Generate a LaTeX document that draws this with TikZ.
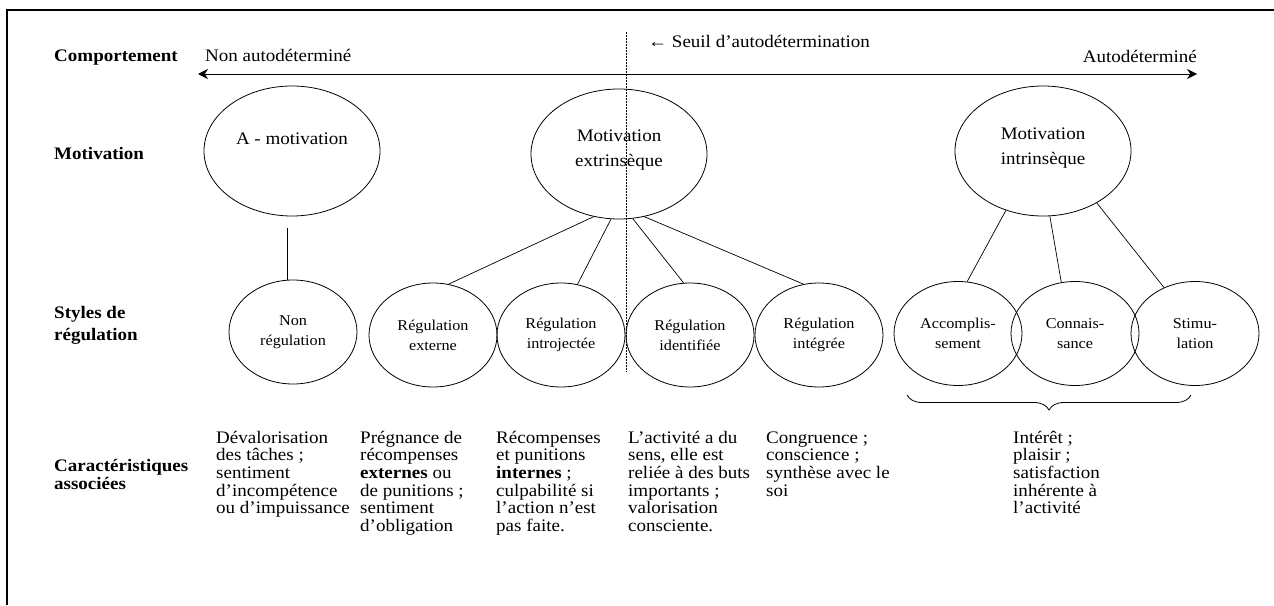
\documentclass[tikz,border=0pt]{standalone}
\usepackage{fontspec}
\setmainfont{Liberation Serif}[FakeStretch=1.08]
\usetikzlibrary{shapes.geometric,arrows.meta,decorations.pathreplacing,calc}
\newcommand\firststrut{\rule{0pt}{13pt}}
\begin{document}
\begin{tikzpicture}[x=1pt,y=-1pt,
  motell/.style={draw, ellipse, minimum width=176pt, minimum height=130pt, line width=0.8pt, inner sep=0pt},
  regc/.style={draw, ellipse, minimum width=128pt, minimum height=104pt, line width=0.8pt, align=center, inner sep=0pt, font=\fontsize{15}{20}\selectfont},
  lab/.style={font=\fontsize{17.6}{22}\selectfont\bfseries, align=left, inner sep=0pt},
  plain/.style={font=\fontsize{17.6}{22}\selectfont, inner sep=0pt},
  etxt/.style={font=\fontsize{17.6}{25}\selectfont, align=center, inner sep=0pt},
  txt/.style={font=\fontsize{17.6}{17.6}\selectfont, align=left, anchor=north west, inner sep=0pt},
  conn/.style={line width=0.7pt},
  tip/.style={{Stealth[length=10pt,width=10pt]}-{Stealth[length=10pt,width=10pt]}}]
\useasboundingbox (0,0) rectangle (1274,605);
% frame
\coordinate (f1) at (1274,10);
\coordinate (f2) at (7,10);
\coordinate (f3) at (7,605);
\draw[line width=2pt] (f1) -- (f2) -- (f3);
% axis
\node[lab, anchor=base west] (comp) at (54,61) {Comportement};
\node[plain, anchor=base west] (nonauto) at (205,61) {Non autodéterminé};
\node[plain, anchor=base west] (seuil) at (648,47) {← Seuil d’autodétermination};
\node[plain, anchor=base east] (auto) at (1197,62) {Autodéterminé};
\coordinate (al) at (198,74);
\coordinate (ar) at (1197,74);
\draw[tip, line width=0.8pt] (al) -- (ar);
\coordinate (d1) at (626,32);
\coordinate (d2) at (626,372);
\draw[line width=0.5pt, dash pattern=on 1.5pt off 1.5pt] (d1) -- (d2);
% motivation row
\node[lab, anchor=base west] (lmot) at (54,159) {Motivation};
\node[motell] (amot) at (292,151) {};
\node[etxt, anchor=base] (amott) at (292,144) {A - motivation};
\node[motell] (mext) at (619,154) {};
\node[etxt, anchor=north] (mextt) at (619,128) {\firststrut Motivation\\extrinsèque};
\node[motell] (mint) at (1043,151) {};
\node[etxt, anchor=north] (mintt) at (1043,126) {\firststrut Motivation\\intrinsèque};
% regulation row
\node[lab, anchor=north west] (lsty) at (54,305) {\firststrut Styles de\\régulation};
\node[regc] (nreg) at (293,332) {Non\\régulation};
\node[regc] (rext) at (433,335) {Régulation\\externe};
\node[regc] (rint) at (561,335) {Régulation\\introjectée};
\node[regc] (rid) at (690,335) {Régulation\\identifiée};
\node[regc] (rintg) at (819,335) {Régulation\\intégrée};
\node[regc] (acc) at (958,333.5) {Accomplis-\\sement};
\node[regc] (con) at (1075,333.5) {Connais-\\sance};
\node[regc] (sti) at (1195,333.5) {Stimu-\\lation};
% connectors
\draw[conn] ([xshift=-5pt,yshift=-12pt]amot.south) -- ([xshift=-5pt]amot.south |- nreg.north);
\draw[conn] (mext.248) -- (rext.73);
\draw[conn] (mext.263) -- (rint.72);
\draw[conn] (mext.282) -- (rid.97);
\draw[conn] (mext.292) -- (rintg.107);
\draw[conn] (mint.238) -- (acc.80);
\draw[conn] (mint.276) -- (con.105);
\draw[conn] (mint.316) -- (sti.124);
% brace
\coordinate (bl) at (907,395);
\coordinate (br) at (1191,395);
\draw[line width=0.8pt, decorate, decoration={brace, mirror, amplitude=15pt}] (bl) -- (br);
% characteristics
\node[lab, anchor=north west, font=\fontsize{17.6}{18}\selectfont\bfseries] (lcar) at (54,458) {\firststrut Caractéristiques\\associées};
\node[txt] (c1) at (216,430) {\firststrut Dévalorisation\\des tâches ;\\sentiment\\d’incompétence\\ou d’impuissance};
\node[txt] (c2) at (360,430) {\firststrut Prégnance de\\récompenses\\\textbf{externes} ou\\de punitions ;\\sentiment\\d’obligation};
\node[txt] (c3) at (496,430) {\firststrut Récompenses\\et punitions\\\textbf{internes} ;\\culpabilité si\\l’action n’est\\pas faite.};
\node[txt] (c4) at (628,430) {\firststrut L’activité a du\\sens, elle est\\reliée à des buts\\importants ;\\valorisation\\consciente.};
\node[txt] (c5) at (766,430) {\firststrut Congruence ;\\conscience ;\\synthèse avec le\\soi};
\node[txt] (c6) at (1013,430) {\firststrut Intérêt ;\\plaisir ;\\satisfaction\\inhérente à\\l’activité};
\end{tikzpicture}
\end{document}
